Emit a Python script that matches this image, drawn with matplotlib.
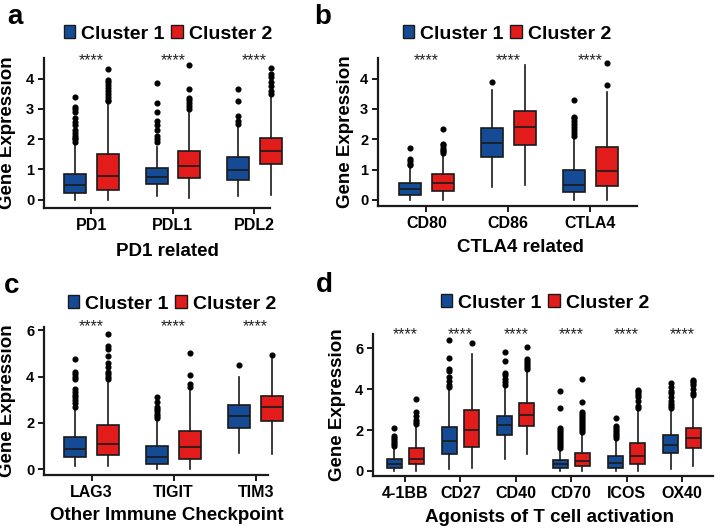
import matplotlib
matplotlib.use("Agg")
import matplotlib.pyplot as plt
from matplotlib.patches import Patch

plt.rcParams['font.family'] = ['Liberation Sans', 'DejaVu Sans']
plt.rcParams['font.weight'] = 'bold'

# colours of the two clusters
c1_color = '#144b94'
c2_color = '#e21b1b'
cluster_names = ['Cluster 1', 'Cluster 2']

# each box: (whisker low, q1, median, q3, whisker high)
# panel a - PD1 related
a_genes = ['PD1', 'PDL1', 'PDL2']
a_c1 = [(0.0, 0.22, 0.48, 0.86, 1.8), (0.11, 0.50, 0.75, 1.04, 1.75), (0.11, 0.63, 0.99, 1.40, 2.45)]
a_c2 = [(0.0, 0.31, 0.77, 1.49, 3.2), (0.05, 0.72, 1.12, 1.62, 2.9), (0.16, 1.16, 1.60, 2.04, 3.4)]
a_c1_out = [[1.9, 2.0, 2.05, 2.1, 2.2, 2.3, 2.45, 2.55, 2.7, 2.9, 3.0, 3.05, 3.4],
            [1.9, 2.0, 2.1, 2.3, 2.45, 2.6, 2.9, 3.2, 3.85],
            [2.5, 2.6, 2.75, 3.25, 3.65]]
a_c2_out = [[3.25, 3.3, 3.4, 3.5, 3.6, 3.7, 3.8, 3.9, 3.95, 4.3],
            [3.0, 3.1, 3.2, 3.3, 3.35, 3.65, 4.45],
            [3.5, 3.6, 3.75, 3.9, 4.05, 4.15, 4.35]]

# panel b - CTLA4 related
b_genes = ['CD80', 'CD86', 'CTLA4']
b_c1 = [(0.0, 0.17, 0.35, 0.57, 1.1), (0.44, 1.43, 1.87, 2.38, 3.64), (0.0, 0.25, 0.50, 0.99, 2.0)]
b_c2 = [(0.0, 0.30, 0.55, 0.84, 1.5), (0.5, 1.81, 2.40, 2.92, 4.46), (0.0, 0.46, 0.94, 1.74, 3.55)]
b_c1_out = [[1.15, 1.2, 1.3, 1.35, 1.7],
            [3.9],
            [2.1, 2.2, 2.3, 2.4, 2.5, 2.6, 2.7, 2.75, 3.3]]
b_c2_out = [[1.55, 1.6, 1.65, 1.7, 1.8, 1.85, 2.35],
            [],
            [3.8, 4.5]]

# panel c - other immune checkpoint
c_genes = ['LAG3', 'TIGIT', 'TIM3']
c_c1 = [(0.12, 0.51, 0.87, 1.37, 2.6), (0.0, 0.22, 0.53, 1.01, 2.1), (0.68, 1.78, 2.28, 2.77, 3.97)]
c_c2 = [(0.14, 0.62, 1.08, 1.89, 3.8), (0.0, 0.43, 0.94, 1.66, 3.45), (0.65, 2.10, 2.67, 3.18, 4.77)]
c_c1_out = [[2.7, 2.85, 3.0, 3.1, 3.2, 3.35, 3.45, 3.9, 4.0, 4.1, 4.2, 4.75],
            [2.2, 2.3, 2.4, 2.5, 2.6, 2.7, 2.9, 3.1],
            [4.5]]
c_c2_out = [[3.9, 4.0, 4.1, 4.2, 4.4, 4.6, 4.9, 5.2, 5.3, 5.85],
            [3.55, 3.7, 4.05, 5.0],
            [4.95]]

# panel d - agonists of T cell activation
d_genes = ['4-1BB', 'CD27', 'CD40', 'CD70', 'ICOS', 'OX40']
d_c1 = [(0.0, 0.16, 0.36, 0.57, 1.1), (0.1, 0.85, 1.47, 2.16, 4.0), (0.57, 1.76, 2.25, 2.70, 4.1),
        (0.0, 0.16, 0.36, 0.56, 1.05), (0.0, 0.16, 0.41, 0.75, 1.5), (0.1, 0.87, 1.29, 1.76, 3.0)]
d_c2 = [(0.02, 0.33, 0.60, 1.14, 2.2), (0.15, 1.18, 2.01, 2.99, 5.7), (0.82, 2.22, 2.75, 3.32, 4.9),
        (0.0, 0.26, 0.51, 0.88, 1.8), (0.0, 0.33, 0.72, 1.39, 3.0), (0.25, 1.13, 1.60, 2.12, 3.6)]
d_c1_out = [[1.2, 1.3, 1.4, 1.5, 1.6, 1.7, 2.1],
            [4.1, 4.2, 4.4, 4.6, 4.9, 5.0, 5.55, 6.4],
            [4.2, 4.35, 4.5, 4.7, 4.8, 5.4, 5.8],
            [1.1, 1.2, 1.3, 1.4, 1.5, 1.6, 1.7, 1.8, 1.9, 2.0, 2.1, 3.1, 3.9],
            [1.6, 1.7, 1.8, 1.9, 2.0, 2.1, 2.2, 2.6],
            [3.1, 3.2, 3.3, 3.4, 3.6, 3.8, 3.9, 4.1, 4.3]]
d_c2_out = [[2.3, 2.4, 2.5, 2.7, 2.9, 3.5],
            [6.25],
            [5.0, 5.1, 5.2, 5.3, 5.4, 5.5, 6.05],
            [1.9, 2.0, 2.1, 2.2, 2.3, 2.4, 2.5, 2.6, 2.7, 2.8, 2.9, 3.35, 4.5],
            [3.1, 3.2, 3.4, 3.6, 3.7, 3.8, 3.9, 3.95],
            [3.7, 3.8, 4.0, 4.2, 4.3, 4.4, 4.45]]


def make_stats(boxes, outs):
    stats = []
    for (lo, q1, med, q3, hi), fl in zip(boxes, outs):
        stats.append(dict(whislo=lo, q1=q1, med=med, q3=q3, whishi=hi, fliers=fl))
    return stats


def draw_panel(ax, genes, c1, c2, c1_out, c2_out, xlabel, ylim, yticks, star_y, xlim, xlab_xy):
    pos = list(range(1, len(genes) + 1))
    for boxes, outs, color, shift in [(c1, c1_out, c1_color, -0.2), (c2, c2_out, c2_color, 0.2)]:
        parts = ax.bxp(make_stats(boxes, outs), positions=[p + shift for p in pos], widths=0.27,
                       patch_artist=True, showcaps=False,
                       boxprops=dict(facecolor=color, edgecolor='#1a1a1a', linewidth=1.2),
                       medianprops=dict(color='#1a1a1a', linewidth=1.2),
                       whiskerprops=dict(color='#1a1a1a', linewidth=1.2),
                       flierprops=dict(marker='o', markerfacecolor='black', markeredgecolor='black',
                                       markersize=3.4))
        # boxes may run past the short spines, as in the original figure
        for group in parts.values():
            for artist in group:
                artist.set_clip_on(False)
    for p in pos:
        ax.text(p, star_y, '****', ha='center', va='center', fontsize=11.5, fontweight='normal',
                color='#222222')
    ax.set_xticks(pos)
    ax.set_xticklabels(genes, fontsize=11.5, fontweight='bold')
    ax.set_yticks(yticks)
    ax.set_yticklabels([str(t) for t in yticks], fontsize=10.5, fontweight='bold')
    ax.set_xlim(*xlim)
    ax.set_ylim(*ylim)
    ax.set_xlabel(xlabel, fontsize=13.5, fontweight='bold')
    ax.xaxis.set_label_coords(*xlab_xy)
    ax.set_ylabel('Gene Expression', fontsize=13.5, fontweight='bold')
    for s in ['top', 'right']:
        ax.spines[s].set_visible(False)
    for s in ['left', 'bottom']:
        ax.spines[s].set_linewidth(1.6)
        ax.spines[s].set_color('#1a1a1a')
    ax.tick_params(width=1.4, length=4, pad=3, color='#1a1a1a')


fig = plt.figure(figsize=(7.21, 5.28), dpi=100)
W, H = 721.0, 528.0


def add_axes(left, top, right, bottom):
    return fig.add_axes([left / W, 1 - bottom / H, (right - left) / W, (bottom - top) / H])


ax_a = add_axes(44, 58, 270, 208)
ax_b = add_axes(378, 58, 637, 206)
ax_c = add_axes(44, 327, 268, 475)
ax_d = add_axes(373, 334, 713, 476)

draw_panel(ax_a, a_genes, a_c1, a_c2, a_c1_out, a_c2_out, 'PD1 related',
           (-0.28, 4.68), [0, 1, 2, 3, 4], 4.6, (0.42, 3.19), (0.546, -0.233))
draw_panel(ax_b, b_genes, b_c1, b_c2, b_c1_out, b_c2_out, 'CTLA4 related',
           (-0.2, 4.68), [0, 1, 2, 3, 4], 4.6, (0.41, 3.57), (0.55, -0.223))
draw_panel(ax_c, c_genes, c_c1, c_c2, c_c1_out, c_c2_out, 'Other Immune Checkpoint',
           (-0.25, 6.14), [0, 2, 4, 6], 6.17, (0.42, 3.15), (0.55, -0.216))
draw_panel(ax_d, d_genes, d_c1, d_c2, d_c1_out, d_c2_out, 'Agonists of T cell activation',
           (-0.245, 6.7), [0, 2, 4, 6], 6.67, (0.42, 6.56), (0.52, -0.232))

# y label anchor is its right edge after rotation
ax_a.yaxis.set_label_coords((16 - 44) / 226, 0.5)
ax_b.yaxis.set_label_coords((354 - 378) / 259, 0.5)
ax_c.yaxis.set_label_coords((16 - 44) / 224, 0.5)
ax_d.yaxis.set_label_coords((346 - 373) / 340, 0.5)

# legends above each panel
handles = [Patch(facecolor=c1_color, edgecolor='#1a1a1a', label=cluster_names[0]),
           Patch(facecolor=c2_color, edgecolor='#1a1a1a', label=cluster_names[1])]
for cx, cy in [(168, 34), (507, 34), (172, 304), (545, 303)]:
    fig.legend(handles=handles, loc='center', bbox_to_anchor=(cx / W, 1 - cy / H), ncol=2,
               frameon=False, prop=dict(size=14, weight='bold'), handlelength=0.6,
               handleheight=0.6, handletextpad=0.3, columnspacing=0.35, borderpad=0)

# panel letters
for letter, x, y in [('a', 15, 17), ('b', 323, 17), ('c', 12, 286), ('d', 324, 285)]:
    fig.text(x / W, 1 - y / H, letter, fontsize=20, fontweight='bold', ha='center', va='center')

fig.savefig('out.png', dpi=100)
